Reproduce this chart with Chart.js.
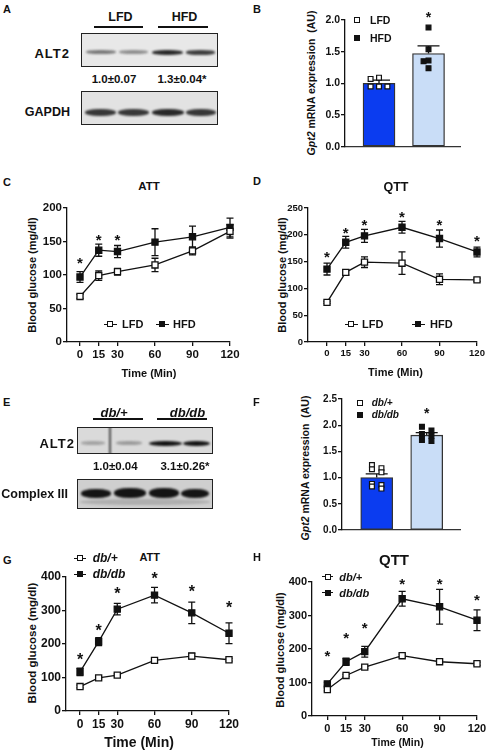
<!DOCTYPE html>
<html>
<head>
<meta charset="utf-8">
<script src="https://cdn.jsdelivr.net/npm/chart.js@4.4.1/dist/chart.umd.min.js"></script>
<style>
  body { margin: 0; background: #fff; }
  #fig { position: relative; width: 488px; height: 750px; overflow: hidden;
         font-family: 'Liberation Sans', Arial, sans-serif; font-weight: bold; color: #111; }
  .t { position: absolute; white-space: nowrap; line-height: 1; }
  canvas { position: absolute; }
  .blot { position: absolute; box-sizing: border-box; border: 1.4px solid #222; overflow: hidden; }
  .band { position: absolute; border-radius: 45%; filter: blur(0.9px); }
</style>
</head>
<body>
<div id="fig"></div>
<script>
// ─── Data ─────────────────────────────────────────────────
const TIMES = [0, 15, 30, 60, 90, 120];

// C – ATT, LFD vs HFD (mg/dl)
const attLfd      = [68, 99, 105, 115, 136, 165];
const attLfdErr   = [3, 7, 5, 10, 6, 10];
const attHfd      = [97, 137, 135, 149, 157, 171];
const attHfdErr   = [8, 9, 9, 20, 16, 14];
const attHfdStars = [123, 158, 158, null, null, null];

// D – QTT, LFD vs HFD
const qttLfd      = [74, 130, 149, 147, 117, 116];
const qttLfdErr   = [2, 5, 10, 21, 10, 3];
const qttHfd      = [136, 186, 198, 214, 193, 168];
const qttHfdErr   = [11, 11, 12, 11, 16, 9];
const qttHfdStars = [166, 211, 225, 241, 225, 195];

// G – ATT, db/+ vs db/db
const attDbp       = [73, 99, 107, 151, 164, 153];
const attDbpErr    = [4, 3, 4, 6, 8, 4];
const attDbdb      = [117, 207, 304, 346, 293, 232];
const attDbdbErr   = [11, 12, 17, 23, 32, 31];
const attDbdbStars = [164, 252, 361, 406, 367, 319];

// H – QTT, db/+ vs db/db
const qttDbp       = [79, 121, 146, 180, 162, 156];
const qttDbpErr    = [4, 3, 4, 5, 4, 5];
const qttDbdb      = [96, 162, 192, 350, 326, 286];
const qttDbdbErr   = [4, 11, 16, 22, 52, 31];
const qttDbdbStars = [191, 245, 274, 405, 405, 356];

// B – Gpt2 mRNA, diet
const gpt2DietMean = [1.0, 1.47];
const gpt2DietErr  = [0.05, 0.12];
const gpt2DietStar = [null, 2.10];
const gpt2Lfd      = [1.09, 1.07, 0.95, 0.95, 0.95];
const gpt2Hfd      = [1.88, 1.54, 1.36, 1.35, 1.24];

// F – Gpt2 mRNA, db
const gpt2DbMean = [1.0, 1.81];
const gpt2DbErr  = [0.07, 0.05];
const gpt2DbStar = [null, 2.30];
const gpt2Dbp    = [1.24, 1.18, 1.16, 1.10, 0.88, 0.86, 0.83, 0.79];
const gpt2Dbdb   = [1.97, 1.90, 1.83, 1.80, 1.72, 1.70];

// ─── Shared style ─────────────────────────────────────────
const FONT = "'Liberation Sans', Arial, sans-serif";
const INK = '#111';
const BLUE = '#0b3cf0';
const PALE = '#c9ddf7';
Chart.defaults.font.family = FONT;
Chart.defaults.color = INK;

const fig = document.getElementById('fig');

// error bars drawn under the marks
const errorBars = {
  id: 'errorBars',
  beforeDatasetsDraw(chart) {
    const { ctx, scales: { x, y } } = chart;
    chart.data.datasets.forEach(ds => {
      if (!ds.errs) return;
      ctx.save();
      ctx.strokeStyle = INK;
      ctx.lineWidth = 1.3;
      ds.data.forEach((p, i) => {
        const e = ds.errs[i];
        if (!e) return;
        const px = x.getPixelForValue(p.x);
        const top = y.getPixelForValue(p.y + e);
        const bot = y.getPixelForValue(ds.errUp ? p.y : p.y - e);
        const cw = ds.capWidth / 2;
        ctx.beginPath();
        ctx.moveTo(px, top); ctx.lineTo(px, bot);
        ctx.moveTo(px - cw, top); ctx.lineTo(px + cw, top);
        if (!ds.errUp) { ctx.moveTo(px - cw, bot); ctx.lineTo(px + cw, bot); }
        ctx.stroke();
      });
      ctx.restore();
    });
  }
};

// significance asterisks
const stars = {
  id: 'stars',
  afterDatasetsDraw(chart, args, opts) {
    const { ctx, scales: { x, y } } = chart;
    const size = opts.size || 15;
    ctx.save();
    ctx.fillStyle = INK;
    ctx.font = `bold ${size}px ${FONT}`;
    ctx.textAlign = 'center';
    ctx.textBaseline = 'alphabetic';
    chart.data.datasets.forEach(ds => {
      if (!ds.stars) return;
      ds.stars.forEach((v, i) => {
        if (v == null) return;
        ctx.fillText('*', x.getPixelForValue(ds.data[i].x), y.getPixelForValue(v) + size * 0.58);
      });
    });
    ctx.restore();
  }
};
Chart.register(errorBars, stars);

// ─── Helpers ──────────────────────────────────────────────
function placeCanvas(area, pad) {
  const c = document.createElement('canvas');
  const W = area.r - area.l + pad.l + pad.r;
  const H = area.b - area.t + pad.t + pad.b;
  c.width = W; c.height = H;
  c.style.left = (area.l - pad.l) + 'px';
  c.style.top = (area.t - pad.t) + 'px';
  c.style.width = W + 'px';
  c.style.height = H + 'px';
  fig.appendChild(c);
  return c;
}

function axis(px, ticks) {
  return {
    border: { display: true, color: INK, width: 1.3 },
    grid: { display: true, drawOnChartArea: false, drawTicks: true, tickLength: 4, color: INK, lineWidth: 1.3 },
    ticks: Object.assign({ color: INK, font: { size: px, weight: 'bold' }, padding: 1 }, ticks || {})
  };
}

function txt(html, x, y, size, anchor, extra) {
  const d = document.createElement('div');
  d.className = 't';
  d.innerHTML = html;
  d.style.fontSize = size + 'px';
  d.style.left = x + 'px';
  d.style.top = y + 'px';
  const tx = anchor === 'l' ? '0' : anchor === 'r' ? '-100%' : '-50%';
  d.style.transform = `translate(${tx},-50%)` + (anchor === 'rot' ? ' rotate(-90deg)' : '');
  if (extra) Object.assign(d.style, extra);
  fig.appendChild(d);
}

function box(x, y, w, h, style) {
  const d = document.createElement('div');
  d.style.position = 'absolute';
  Object.assign(d.style, { left: x + 'px', top: y + 'px', width: w + 'px', height: h + 'px' }, style);
  fig.appendChild(d);
  return d;
}

function rule(x1, x2, y) { box(x1, y - 1, x2 - x1, 2, { background: INK }); }

// marker used in keys of the bar charts
function square(cx, cy, filled) {
  box(cx - 3, cy - 3, 6, 6, { boxSizing: 'border-box', border: '1.2px solid ' + INK, background: filled ? INK : '#fff' });
}

// line + marker used in keys of the time course charts
function lineKey(cx, cy, filled, w) {
  box(cx - w / 2, cy - 0.65, w, 1.3, { background: INK });
  box(cx - 3, cy - 3, 6, 6, { boxSizing: 'border-box', border: '1.3px solid ' + INK, background: filled ? INK : '#fff' });
}

function blot(x, y, w, h, bg, bands) {
  const b = document.createElement('div');
  b.className = 'blot';
  Object.assign(b.style, { left: x + 'px', top: y + 'px', width: w + 'px', height: h + 'px', background: bg });
  bands.forEach(([bx, by, bw, bh, col, rad]) => {
    const d = document.createElement('div');
    d.className = 'band';
    Object.assign(d.style, { left: bx + 'px', top: by + 'px', width: bw + 'px', height: bh + 'px', background: col });
    if (rad != null) d.style.borderRadius = rad;
    b.appendChild(d);
  });
  fig.appendChild(b);
}

// points of a group spread sideways where they would overlap
function swarm(vals, yTol, step) {
  const placed = [];
  return vals.map(v => {
    for (const k of [0, -1, 1, -2, 2]) {
      const dx = k * step;
      if (!placed.some(p => Math.abs(p.v - v) < yTol && Math.abs(p.dx - dx) < step / 2)) {
        placed.push({ v, dx });
        return dx;
      }
    }
    return 0;
  });
}
function alternate(vals, step) { return vals.map((_, i) => (i % 2 ? step : -step)); }

// ─── Time course chart (C, D, G, H) ───────────────────────
function timeChart(area, xMin, yMax, yStep, tickPx, starPx, open, openErr, filled, filledErr, starVals) {
  const pad = { l: 42, r: 14, t: 24, b: 26 };
  const cv = placeCanvas(area, pad);
  const pts = arr => arr.map((v, i) => ({ x: TIMES[i], y: v }));
  const look = fill => ({
    borderColor: INK, borderWidth: 1.3, tension: 0, clip: false,
    pointStyle: 'rect', pointRadius: 4.3, pointHoverRadius: 4.3,
    pointBackgroundColor: fill, pointBorderColor: INK, pointBorderWidth: 1.3, capWidth: 7
  });
  return new Chart(cv, {
    type: 'line',
    data: {
      datasets: [
        Object.assign(look('#fff'), { data: pts(open), errs: openErr }),
        Object.assign(look(INK), { data: pts(filled), errs: filledErr, stars: starVals })
      ]
    },
    options: {
      responsive: false, animation: false,
      layout: { padding: { top: pad.t, right: pad.r, left: 0, bottom: 0 } },
      plugins: { legend: { display: false }, tooltip: { enabled: false }, stars: { size: starPx } },
      scales: {
        x: Object.assign(axis(tickPx, { maxRotation: 0, autoSkip: false, padding: 2 }), {
          type: 'linear', min: xMin, max: 120,
          afterBuildTicks: s => { s.ticks = TIMES.map(v => ({ value: v })); },
          afterFit: s => { s.height = pad.b; }
        }),
        y: Object.assign(axis(tickPx, { stepSize: yStep }), {
          min: 0, max: yMax,
          afterFit: s => { s.width = pad.l; }
        })
      }
    }
  });
}

// ─── Bar + dot chart (B, F) ───────────────────────────────
function dotBarChart(area, xMin, xMax, yMax, tickPx, means, errs, starVals, groupA, groupB, jitA, jitB) {
  const pad = { l: 40, r: 6, t: 24, b: 4 };
  const cv = placeCanvas(area, pad);
  const dots = (vals, jit, base, fill) => ({
    type: 'scatter', order: 0, clip: false,
    data: vals.map((v, i) => ({ x: base + jit[i], y: v })),
    pointStyle: 'rect', pointRadius: 3.4, pointHoverRadius: 3.4,
    pointBackgroundColor: fill, pointBorderColor: INK, pointBorderWidth: 1.2
  });
  return new Chart(cv, {
    type: 'bar',
    data: {
      datasets: [
        dots(groupA, jitA, 1, '#fff'),
        dots(groupB, jitB, 2, INK),
        {
          type: 'bar', order: 2,
          data: means.map((v, i) => ({ x: i + 1, y: v })),
          backgroundColor: [BLUE, PALE], borderColor: '#333', borderWidth: 1.3,
          borderSkipped: false, barThickness: 32,
          errs, errUp: true, capWidth: 22, stars: starVals
        }
      ]
    },
    options: {
      responsive: false, animation: false,
      layout: { padding: { top: pad.t, right: pad.r, left: 0, bottom: 0 } },
      plugins: { legend: { display: false }, tooltip: { enabled: false }, stars: { size: 14 } },
      scales: {
        x: {
          type: 'linear', min: xMin, max: xMax, offset: false,
          border: { display: true, color: '#333', width: 1.3 },
          grid: { display: false }, ticks: { display: false },
          afterFit: s => { s.height = pad.b; }
        },
        y: Object.assign(axis(tickPx, { stepSize: 0.5, callback: v => v.toFixed(1) }), {
          min: 0, max: yMax,
          afterFit: s => { s.width = pad.l; }
        })
      }
    }
  });
}

// ─── Panel A: blot ────────────────────────────────────────
txt('A', 3, 9, 11, 'l');
txt('LFD', 120.5, 17, 12.5);
txt('HFD', 184.5, 17, 12.5);
rule(94, 143, 26.7);
rule(158, 208, 26.7);
blot(81, 33, 137, 34, '#e8e8e8', [
  [4, 16, 30, 4, 'rgba(30,30,30,0.55)'], [37, 16, 29, 4, 'rgba(30,30,30,0.45)'],
  [70, 15.5, 31, 5, 'rgba(20,20,20,0.9)'], [104, 16, 29, 4.5, 'rgba(20,20,20,0.8)']
]);
txt('ALT2', 70, 52.5, 13, 'r', { letterSpacing: '1px' });
txt('1.0±0.07', 114, 80, 11.5);
txt('1.3±0.04*', 182, 80, 11.5);
blot(81, 91, 137, 34, '#e2e2e2', [
  [3, 17, 31, 7, 'rgba(25,25,25,0.85)'], [36, 17, 31, 7, 'rgba(25,25,25,0.85)'],
  [70, 17, 32, 7, 'rgba(20,20,20,0.9)'], [104, 17, 30, 7, 'rgba(25,25,25,0.85)']
]);
txt('GAPDH', 70, 111.5, 12.5, 'r');

// ─── Panel B ──────────────────────────────────────────────
txt('B', 253, 9, 11, 'l');
txt('<i>Gpt2</i> mRNA expression&nbsp; (AU)', 311, 83, 10.5, 'rot');
dotBarChart({ l: 345, r: 460, t: 20, b: 150 }, 0.313, 2.636, 2.0, 10.5,
  gpt2DietMean, gpt2DietErr, gpt2DietStar, gpt2Lfd, gpt2Hfd,
  swarm(gpt2Lfd, 0.08, 0.17), swarm(gpt2Hfd, 0.08, 0.1));
square(357, 20, false); txt('LFD', 370, 20, 10.5, 'l');
square(357, 38, true);  txt('HFD', 370, 38, 10.5, 'l');

// ─── Panel C ──────────────────────────────────────────────
txt('C', 3, 181.5, 11, 'l');
txt('ATT', 149, 187.3, 11.5);
txt('Blood glucose (mg/dl)', 32, 275, 11, 'rot');
timeChart({ l: 67, r: 230, t: 208, b: 342 }, -10.4, 200, 50, 11.5, 15,
  attLfd, attLfdErr, attHfd, attHfdErr, attHfdStars);
lineKey(110, 324.3, false, 13); txt('LFD', 122, 324.3, 11, 'l');
lineKey(162, 324.3, true, 13);  txt('HFD', 173, 324.3, 11, 'l');
txt('Time (Min)', 149, 372.7, 11);

// ─── Panel D ──────────────────────────────────────────────
txt('D', 253, 180.5, 11, 'l');
txt('QTT', 396, 187, 12.5);
txt('Blood glucose (mg/dl)', 282, 275, 11, 'rot');
timeChart({ l: 308, r: 477, t: 208, b: 342 }, -15.2, 250, 50, 9.5, 15,
  qttLfd, qttLfdErr, qttHfd, qttHfdErr, qttHfdStars);
lineKey(351, 324.3, false, 13); txt('LFD', 362, 324.3, 11, 'l');
lineKey(418, 324.3, true, 13);  txt('HFD', 430, 324.3, 11, 'l');
txt('Time (Min)', 395.5, 371.7, 11);

// ─── Panel E: blot ────────────────────────────────────────
txt('E', 3, 402, 11, 'l');
txt('<i>db/+</i>', 114, 411.7, 13);
txt('<i>db/db</i>', 187.5, 411.7, 13);
rule(92.7, 142.7, 419.3);
rule(156.7, 206.7, 419.3);
blot(77, 427, 136, 27, '#dadada', [
  [3, 13, 24, 4, 'rgba(60,60,60,0.35)'], [38, 13, 26, 4, 'rgba(60,60,60,0.4)'],
  [71, 12.5, 33, 5.5, 'rgba(10,10,10,0.95)'], [105, 12.5, 27, 5.5, 'rgba(10,10,10,0.95)'],
  [31, -2, 1.6, 32, 'rgba(40,40,40,0.8)', '0']
]);
txt('ALT2', 75, 443, 13, 'r', { letterSpacing: '1px' });
txt('1.0±0.04', 115.3, 467.3, 11.5);
txt('3.1±0.26*', 185, 467.3, 11.5);
blot(77, 479, 136, 30, '#cfcfcf', [
  [3, 9, 30, 9, 'rgba(10,10,10,0.95)'], [36, 8, 32, 10, 'rgba(10,10,10,0.95)'],
  [71, 8, 30, 10, 'rgba(10,10,10,0.95)'], [103, 8.5, 28, 9.5, 'rgba(10,10,10,0.95)'],
  [2, 19, 130, 6, 'rgba(80,80,80,0.25)']
]);
txt('Complex III', 68, 493.5, 12.5, 'r');

// ─── Panel F ──────────────────────────────────────────────
txt('F', 253, 401.7, 11, 'l');
txt('<i>Gpt2</i> mRNA expression&nbsp; (AU)', 305, 468, 10.5, 'rot');
dotBarChart({ l: 342, r: 460, t: 399, b: 533 }, 0.306, 2.666, 2.5, 10,
  gpt2DbMean, gpt2DbErr, gpt2DbStar, gpt2Dbp, gpt2Dbdb,
  alternate(gpt2Dbp, 0.095), alternate(gpt2Dbdb, 0.095));
square(360, 403.3, false); txt('<i>db/+</i>', 371.7, 403.3, 10, 'l');
square(360, 415, true);    txt('<i>db/db</i>', 371.7, 415, 10, 'l');

// ─── Panel G ──────────────────────────────────────────────
txt('G', 3, 560, 11, 'l');
txt('ATT', 149.7, 557.3, 11);
txt('Blood glucose (mg/dl)', 32.7, 643, 11.5, 'rot');
timeChart({ l: 66, r: 229, t: 577, b: 711 }, -11.3, 400, 100, 12, 16,
  attDbp, attDbpErr, attDbdb, attDbdbErr, attDbdbStars);
lineKey(80, 558.3, false, 12); txt('<i>db/+</i>', 92.7, 558.3, 12, 'l');
lineKey(80, 574.3, true, 12);  txt('<i>db/db</i>', 92.7, 574.3, 12, 'l');
txt('Time (Min)', 139, 741.7, 14);

// ─── Panel H ──────────────────────────────────────────────
txt('H', 253, 557, 11, 'l');
txt('QTT', 394, 559, 15);
txt('Blood glucose (mg/dl)', 280, 650, 11, 'rot');
timeChart({ l: 312, r: 477, t: 582, b: 716 }, -12.3, 400, 100, 11, 15,
  qttDbp, qttDbpErr, qttDbdb, qttDbdbErr, qttDbdbStars);
lineKey(327.5, 576.7, false, 11.5); txt('<i>db/+</i>', 339.3, 576.7, 11, 'l');
lineKey(327.5, 592.7, true, 11.5);  txt('<i>db/db</i>', 339.3, 592.7, 11, 'l');
txt('Time (Min)', 397.5, 741.7, 10.5);
</script>
</body>
</html>
